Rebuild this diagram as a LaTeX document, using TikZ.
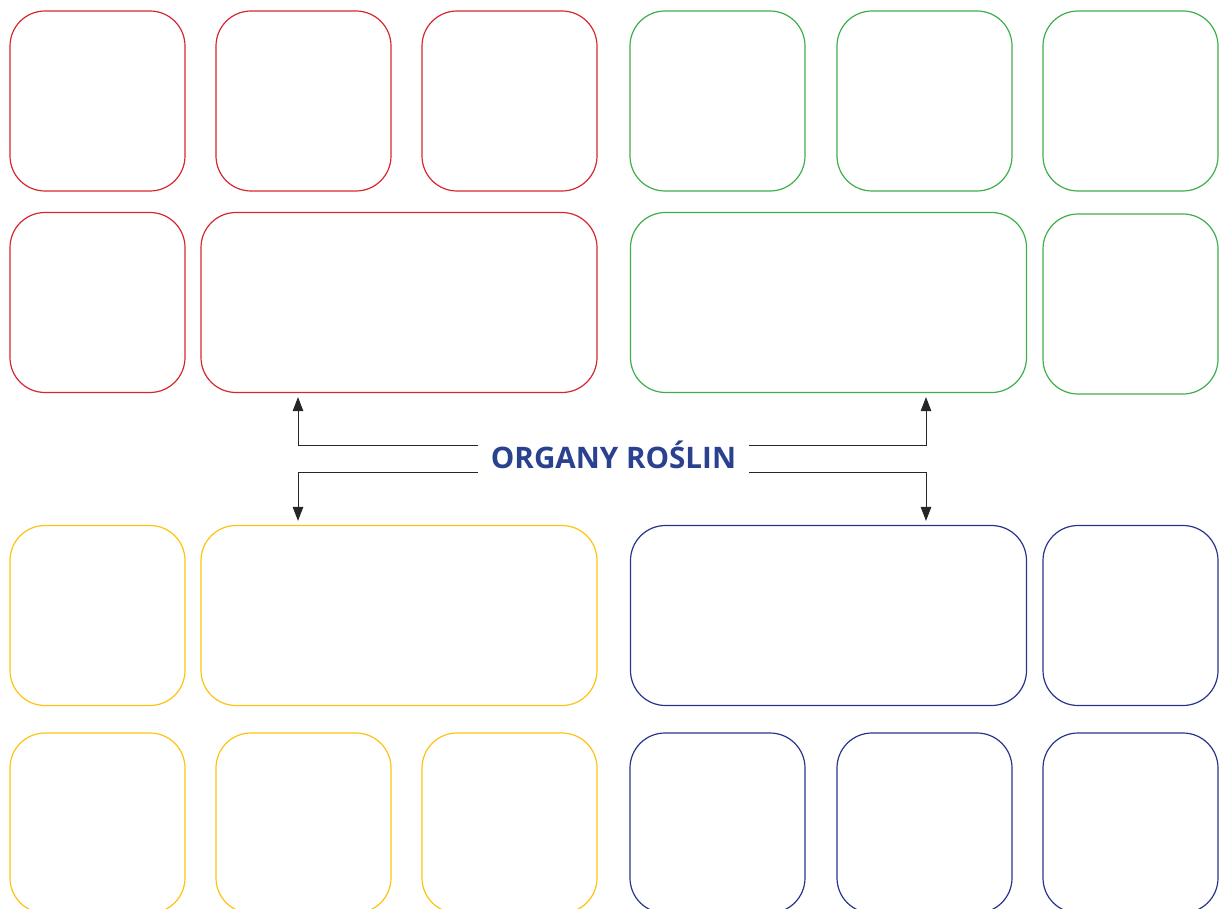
\documentclass[tikz,border=0pt]{standalone}
\usepackage{fontspec}
\setmainfont{Open Sans}
\usepackage{tikz}
\usetikzlibrary{positioning,arrows.meta,calc}
\definecolor{orgred}{HTML}{D7262E}
\definecolor{orggreen}{HTML}{3DAE49}
\definecolor{orgyellow}{HTML}{FFC20E}
\definecolor{orgblue}{HTML}{27348B}
\definecolor{titleblue}{HTML}{2A4190}

\begin{document}
\begin{tikzpicture}[x=1pt, y=-1pt,
  box/.style={draw, rounded corners=35pt, line width=1.2pt, inner sep=0pt,
              minimum width=175pt, minimum height=180pt},
  wide/.style={box, minimum width=396pt},
  rbox/.style={box, draw=orgred}, gbox/.style={box, draw=orggreen},
  ybox/.style={box, draw=orgyellow}, bbox/.style={box, draw=orgblue},
  arr/.style={-{Triangle[length=14pt, width=10.5pt]}, line width=1pt, black!85, shorten >=4pt}]
\clip (0,0) rectangle (1220,909);
% top: red and green
\node[rbox] (r1) at (97.5,101) {};
\node[rbox] (r2) at (303.5,101) {};
\node[rbox] (r3) at (509.5,101) {};
\node[gbox] (g1) at (717.5,101) {};
\node[gbox] (g2) at (924.5,101) {};
\node[gbox] (g3) at (1130.5,101) {};
\node[rbox] (r4) at (97.5,302.5) {};
\node[rbox, wide] (r5) at (399,302.5) {};
\node[gbox, wide] (g5) at (828.5,302.5) {};
\node[gbox] (g4) at (1130.5,304) {};
% bottom: yellow and blue
\node[ybox] (y4) at (97.5,615.5) {};
\node[ybox, wide] (y5) at (399,615.5) {};
\node[bbox, wide] (b5) at (828.5,615.5) {};
\node[bbox] (b4) at (1130.5,615.5) {};
\node[ybox] (y1) at (97.5,823) {};
\node[ybox] (y2) at (303.5,823) {};
\node[ybox] (y3) at (509.5,823) {};
\node[bbox] (b1) at (717.5,823) {};
\node[bbox] (b2) at (924.5,823) {};
\node[bbox] (b3) at (1130.5,823) {};
% title with four branches
\node[font=\fontsize{29.6}{32}\selectfont\bfseries, text=titleblue, inner xsep=12.5pt,
      inner ysep=0pt, text height=20pt, text depth=2pt, minimum height=26pt]
      (title) at (613.5,459) {ORGANY ROŚLIN};
\draw[arr] (title.north west) -| ([xshift=-101pt]r5.south);
\draw[arr] (title.north east) -| ([xshift=97.5pt]g5.south);
\draw[arr] (title.south west) -| ([xshift=-101pt]y5.north);
\draw[arr] (title.south east) -| ([xshift=97.5pt]b5.north);
\end{tikzpicture}
\end{document}
